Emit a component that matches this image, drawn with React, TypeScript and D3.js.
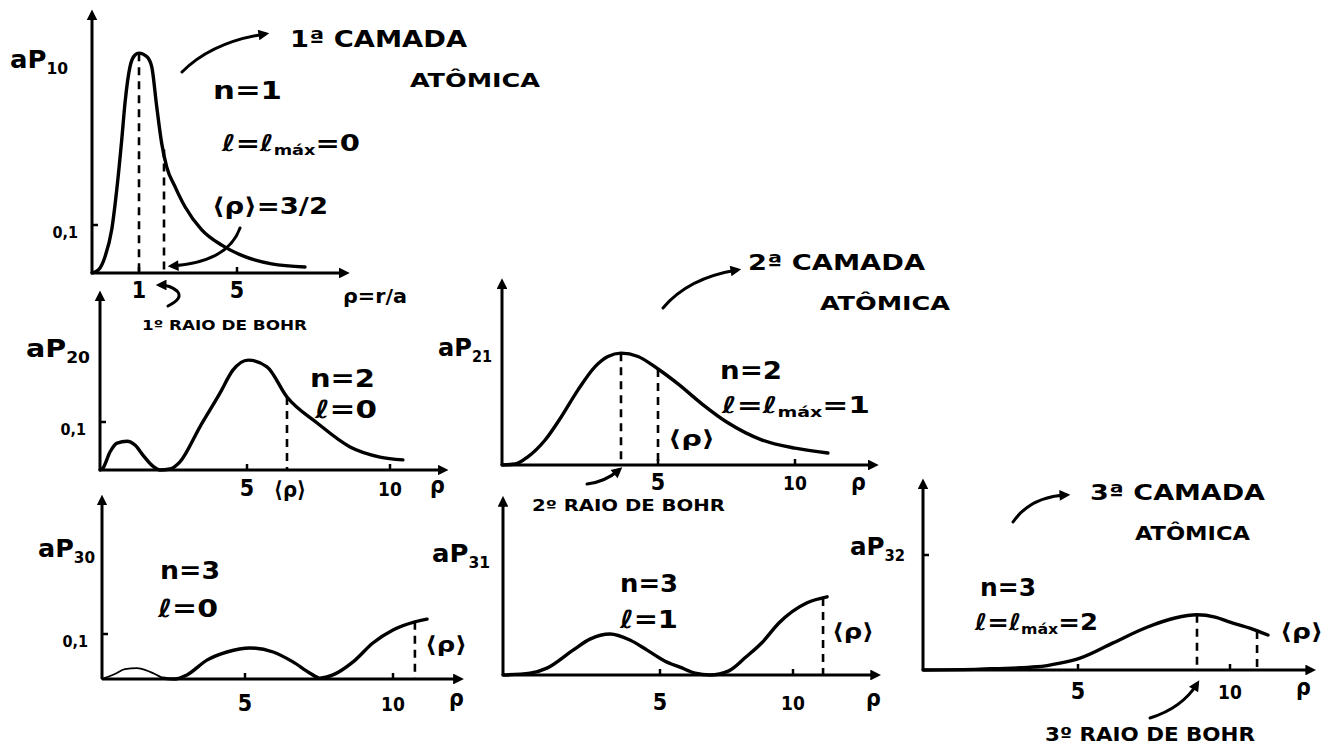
import React from 'react';
import * as d3 from 'd3';

// ---------- data (ρ = r/a, value = a·P) ----------
const P10_RHO = [0, 0.134, 0.277, 0.419, 0.526, 0.632, 0.702, 0.809, 0.915, 1.0, 1.154, 1.254, 1.354, 1.454, 1.629, 2.027, 2.507, 3.31, 4.27, 5.38, 6.66, 8.26];
const P10_VAL = [0, 0.006, 0.034, 0.09, 0.173, 0.277, 0.354, 0.43, 0.454, 0.458, 0.451, 0.43, 0.347, 0.27, 0.221, 0.18, 0.138, 0.09, 0.058, 0.034, 0.019, 0.0125];

const P20_RHO = [0, 0.1, 0.34, 0.58, 0.92, 1.19, 1.46, 1.8, 2.04, 2.38, 2.72, 3.4, 4.08, 4.52, 5.03, 5.5, 6.0, 7.17, 8.45, 9.61, 10.5];
const P20_VAL = [0, 0.004, 0.0375, 0.056, 0.06, 0.052, 0.031, 0.008, 0, 0.002, 0.017, 0.09, 0.16, 0.208, 0.229, 0.215, 0.152, 0.098, 0.048, 0.027, 0.021];

const P21_RHO = [0, 0.44, 0.87, 1.45, 2.0, 2.55, 3.13, 3.56, 4.0, 4.46, 5.0, 5.73, 6.61, 7.55, 8.8, 10.0, 11.2];
const P21_VAL = [0, 0.002, 0.017, 0.052, 0.101, 0.156, 0.205, 0.226, 0.233, 0.226, 0.2, 0.169, 0.127, 0.088, 0.052, 0.035, 0.025];

const P30_RHO = [0, 0.45, 0.8, 1.22, 1.68, 2.13, 2.55, 2.97, 3.67, 4.37, 5.17, 5.95, 6.62, 7.2, 7.53, 7.97, 8.65, 9.32, 10.0, 10.74, 11.15];
const P30_VAL = [0, 0.011, 0.022, 0.024, 0.016, 0.002, 0, 0.009, 0.042, 0.06, 0.069, 0.06, 0.038, 0.013, 0.002, 0.009, 0.038, 0.08, 0.109, 0.127, 0.133];

const P31_RHO = [0, 0.86, 1.4, 2.23, 2.77, 3.41, 4.04, 4.59, 5.19, 5.75, 6.32, 6.88, 7.59, 8.23, 8.83, 9.47, 10.53, 11.28];
const P31_VAL = [0, 0.004, 0.015, 0.054, 0.078, 0.089, 0.076, 0.054, 0.03, 0.017, 0.004, 0, 0.009, 0.039, 0.07, 0.113, 0.157, 0.17];

const P32_RHO = [0, 1.84, 3.68, 4.42, 5.07, 6.18, 7.32, 8.26, 9, 9.55, 10, 10.6, 11.15];
const P32_VAL = [0, 0.002, 0.007, 0.015, 0.026, 0.059, 0.093, 0.113, 0.12, 0.115, 0.104, 0.091, 0.076];

// dashed guide lines (ρ values: most probable radius / <ρ>)
const P10_DASH = [1, 1.5];
const P20_DASH = [6];
const P21_DASH = [4, 5];
const P30_DASH = [10.74];
const P31_DASH = [11.13];
const P32_DASH = [9, 10.82];

// tick values and labels
const P10_XTICKS = [1, 5];
const P10_XLABELS = ['1', '5'];
const XTICKS = [5, 10];
const XLABELS = ['5', '10'];
const Y_TICK = [0.1];
const Y_TICK_LABEL = ['0,1'];
const P32_YTICK = [0.25];

const FONT = "'DejaVu Sans Condensed', 'DejaVu Sans', sans-serif";
const SW = 3.4;

type PanelProps = {
  rho: number[];
  val: number[];
  dash: number[];
  xDomain: number[];
  xRange: number[];
  xMax: number;
  yAxis: number;
  yPer: number;
  yMax: number;
  xTicks: number[];
  xLabels: string[];
  tickDy: number;
  yTicks?: number[];
  yLabels?: string[];
  thinUntil?: number;
};

function Panel(p: PanelProps) {
  const xs = d3.scaleLinear().domain(p.xDomain).range(p.xRange);
  const ys = d3.scaleLinear().domain([0, 1]).range([p.yAxis, p.yAxis - p.yPer]);
  const interp = d3.scaleLinear().domain(p.rho).range(p.val);
  const pts: [number, number][] = p.rho.map((r, i) => [r, p.val[i]]);
  const line = d3
    .line<[number, number]>()
    .x((d) => xs(d[0]))
    .y((d) => ys(d[1]))
    .curve(d3.curveMonotoneX);
  const x0 = xs(0);
  const y0 = ys(0);
  const paths: { d: string; w: number }[] = [];
  if (p.thinUntil !== undefined) {
    paths.push({ d: line(pts.slice(0, p.thinUntil + 1)) || '', w: 1.8 });
    paths.push({ d: line(pts.slice(p.thinUntil)) || '', w: SW });
  } else {
    paths.push({ d: line(pts) || '', w: SW });
  }
  return (
    <g>
      <line x1={x0} y1={y0} x2={xs(p.xMax)} y2={y0} stroke="#000" strokeWidth={3} markerEnd="url(#ah)" />
      <line x1={x0} y1={y0} x2={x0} y2={ys(p.yMax)} stroke="#000" strokeWidth={3} markerEnd="url(#ah)" />
      {p.xTicks.map((t, i) => (
        <g key={'xt' + i}>
          <line x1={xs(t)} x2={xs(t)} y1={y0} y2={y0 - 6} stroke="#000" strokeWidth={2.5} />
          <text x={xs(t)} y={y0 + p.tickDy} textAnchor="middle" fontFamily={FONT} fontWeight="bold" fontSize={t >= 10 ? 19 : 23}>
            {p.xLabels[i]}
          </text>
        </g>
      ))}
      {(p.yTicks || []).map((t, i) => (
        <g key={'yt' + i}>
          <line x1={x0} x2={x0 + 6} y1={ys(t)} y2={ys(t)} stroke="#000" strokeWidth={2.5} />
          {p.yLabels && p.yLabels[i] ? (
            <text x={x0 - 14} y={ys(t) + 13} textAnchor="end" fontFamily={FONT} fontWeight="bold" fontSize={16}>
              {p.yLabels[i]}
            </text>
          ) : null}
        </g>
      ))}
      {p.dash.map((r, i) => (
        <line
          key={'d' + i}
          x1={xs(r)}
          x2={xs(r)}
          y1={ys(interp(r))}
          y2={y0}
          stroke="#000"
          strokeWidth={2.6}
          strokeDasharray="8 6"
        />
      ))}
      {paths.map((q, i) => (
        <path key={'c' + i} d={q.d} fill="none" stroke="#000" strokeWidth={q.w} strokeLinejoin="round" strokeLinecap="round" />
      ))}
    </g>
  );
}

function T(props: { x: number; y: number; size?: number; w?: number; anchor?: string; children: React.ReactNode }) {
  const { x, y, size = 20, w, anchor = 'start', children } = props;
  return (
    <text
      x={x}
      y={y}
      fontSize={size}
      fontFamily={FONT}
      fontWeight="bold"
      textAnchor={anchor}
      textLength={w}
      lengthAdjust={w ? 'spacingAndGlyphs' : undefined}
    >
      {children}
    </text>
  );
}

function AP({ x, y, sub, w }: { x: number; y: number; sub: string; w?: number }) {
  return (
    <text x={x} y={y} fontSize={25} fontFamily={FONT} fontWeight="bold" textLength={w} lengthAdjust="spacingAndGlyphs">
      aP
      <tspan fontSize={15} dy={6}>
        {sub}
      </tspan>
    </text>
  );
}

function LMax({ x, y, w, v }: { x: number; y: number; w: number; v: string }) {
  return (
    <text x={x} y={y} fontSize={23} fontFamily={FONT} fontWeight="bold" textLength={w} lengthAdjust="spacingAndGlyphs">
      ℓ=ℓ<tspan fontSize={14} dy={4}>máx</tspan>
      <tspan dy={-4}>={v}</tspan>
    </text>
  );
}

function Arrow({ d }: { d: string }) {
  return <path d={d} fill="none" stroke="#000" strokeWidth={3} strokeLinecap="round" markerEnd="url(#ah2)" />;
}

export default function App() {
  return (
    <svg width={1333} height={749} style={{ position: 'absolute', left: 0, top: 0, background: '#fff' }}>
      <defs>
        <marker id="ah" viewBox="0 0 10 10" refX="6" refY="5" markerWidth="3.6" markerHeight="3.6" orient="auto">
          <path d="M0,0 L10,5 L0,10 z" fill="#000" />
        </marker>
        <marker id="ah2" viewBox="0 0 10 10" refX="6" refY="5" markerWidth="4.5" markerHeight="3.6" orient="auto">
          <path d="M0,0 L10,5 L0,10 z" fill="#000" />
        </marker>
      </defs>
      <rect width={1333} height={749} fill="#fff" />

      {/* ---- P10 ---- */}
      <Panel
        rho={P10_RHO}
        val={P10_VAL}
        dash={P10_DASH}
        xDomain={[0, 1, 1.5, 5]}
        xRange={[92, 139, 164, 237]}
        xMax={10.2}
        yAxis={273}
        yPer={480}
        yMax={0.54}
        xTicks={P10_XTICKS}
        xLabels={P10_XLABELS}
        tickDy={25}
        yTicks={Y_TICK}
        yLabels={Y_TICK_LABEL}
      />
      <AP x={10} y={68} sub="10" w={58} />
      <T x={343} y={303} size={20} w={64}>ρ=r/a</T>
      <T x={213} y={99} size={25} w={69}>n=1</T>
      <LMax x={222} y={151} w={138} v="0" />
      <T x={212} y={214} size={23} w={116}>⟨ρ⟩=3/2</T>
      <T x={142} y={330} size={14} w={165}>1º RAIO DE BOHR</T>
      <T x={290} y={47} size={23} w={177}>1ª CAMADA</T>
      <T x={410} y={87} size={20} w={130}>ATÔMICA</T>
      <Arrow d="M182,72 Q212,42 265,34" />
      <Arrow d="M240,228 Q228,262 172,266" />
      <Arrow d="M168,306 Q184,298 177,291 Q170,285 160,285" />

      {/* ---- P20 ---- */}
      <Panel
        rho={P20_RHO}
        val={P20_VAL}
        dash={P20_DASH}
        xDomain={[0, 5, 6, 10]}
        xRange={[100, 247, 287, 390]}
        xMax={12.1}
        yAxis={470}
        yPer={480}
        yMax={0.365}
        xTicks={XTICKS}
        xLabels={XLABELS}
        tickDy={26}
        yTicks={Y_TICK}
        yLabels={Y_TICK_LABEL}
      />
      <AP x={26} y={357} sub="20" w={64} />
      <T x={290} y={497} size={22} anchor="middle">⟨ρ⟩</T>
      <T x={430} y={493} size={23}>ρ</T>
      <T x={310} y={387} size={25} w={65}>n=2</T>
      <T x={315} y={418} size={25} w={62}>ℓ=0</T>

      {/* ---- P21 ---- */}
      <Panel
        rho={P21_RHO}
        val={P21_VAL}
        dash={P21_DASH}
        xDomain={[0, 4, 5, 10]}
        xRange={[502, 621, 658, 795]}
        xMax={12.9}
        yAxis={465}
        yPer={480}
        yMax={0.38}
        xTicks={XTICKS}
        xLabels={XLABELS}
        tickDy={25}
      />
      <AP x={438} y={356} sub="21" w={54} />
      <T x={851} y={490} size={23}>ρ</T>
      <T x={668} y={446} size={22} w={47}>⟨ρ⟩</T>
      <T x={720} y={379} size={25} w={62}>n=2</T>
      <LMax x={722} y={413} w={148} v="1" />
      <T x={532} y={511} size={15} w={193}>2º RAIO DE BOHR</T>
      <T x={748} y={270} size={22} w={177}>2ª CAMADA</T>
      <T x={820} y={310} size={20} w={130}>ATÔMICA</T>
      <Arrow d="M663,308 Q688,278 737,270" />
      <Arrow d="M587,484 Q605,482 619,470" />

      {/* ---- P30 ---- */}
      <Panel
        rho={P30_RHO}
        val={P30_VAL}
        dash={P30_DASH}
        xDomain={[0, 5, 10]}
        xRange={[102, 245, 393]}
        xMax={12.25}
        yAxis={679}
        yPer={450}
        yMax={0.4}
        xTicks={XTICKS}
        xLabels={XLABELS}
        tickDy={32}
        yTicks={Y_TICK}
        yLabels={Y_TICK_LABEL}
        thinUntil={5}
      />
      <AP x={38} y={557} sub="30" w={57} />
      <T x={449} y={706} size={23}>ρ</T>
      <T x={425} y={652} size={22} w={42}>⟨ρ⟩</T>
      <T x={160} y={579} size={25} w={60}>n=3</T>
      <T x={158} y={617} size={25} w={60}>ℓ=0</T>

      {/* ---- P31 ---- */}
      <Panel
        rho={P31_RHO}
        val={P31_VAL}
        dash={P31_DASH}
        xDomain={[0, 5, 10]}
        xRange={[503, 660, 793]}
        xMax={13.15}
        yAxis={675}
        yPer={460}
        yMax={0.38}
        xTicks={XTICKS}
        xLabels={XLABELS}
        tickDy={35}
      />
      <AP x={432} y={562} sub="31" w={58} />
      <T x={866} y={706} size={23}>ρ</T>
      <T x={832} y={639} size={22} w={42}>⟨ρ⟩</T>
      <T x={620} y={592} size={25} w={58}>n=3</T>
      <T x={620} y={628} size={25} w={58}>ℓ=1</T>

      {/* ---- P32 ---- */}
      <Panel
        rho={P32_RHO}
        val={P32_VAL}
        dash={P32_DASH}
        xDomain={[0, 5, 9, 10]}
        xRange={[923, 1078, 1197, 1230]}
        xMax={12.48}
        yAxis={670}
        yPer={460}
        yMax={0.407}
        xTicks={XTICKS}
        xLabels={XLABELS}
        tickDy={29}
        yTicks={P32_YTICK}
      />
      <AP x={850} y={555} sub="32" w={55} />
      <T x={1296} y={695} size={23}>ρ</T>
      <T x={1280} y={639} size={22} w={43}>⟨ρ⟩</T>
      <T x={980} y={596} size={25} w={56}>n=3</T>
      <LMax x={975} y={630} w={123} v="2" />
      <T x={1045} y={741} size={19} w={210}>3º RAIO DE BOHR</T>
      <T x={1090} y={500} size={21} w={175}>3ª CAMADA</T>
      <T x={1135} y={540} size={19} w={115}>ATÔMICA</T>
      <Arrow d="M1013,522 Q1030,497 1066,495" />
      <Arrow d="M1150,718 Q1182,708 1197,684" />
    </svg>
  );
}
